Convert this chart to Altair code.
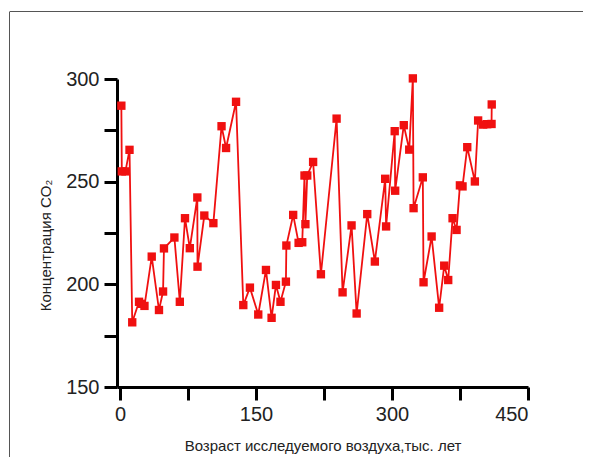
import altair as alt
import pandas as pd

age = [1.5, 2, 6, 10.5, 13.5, 21, 24, 27, 35, 43, 47.5, 48.5, 60, 66, 71.7, 77,
       85.3, 85.5, 93, 103, 112, 117, 128, 136, 143.3, 152.5, 161, 167.2, 172,
       177, 183, 183.5, 191, 197, 201, 203.5, 204.5, 206.5, 213, 221.6, 238.9,
       245.5, 255.4, 261, 272.7, 281.1, 292.5, 293.5, 303, 303.5, 313, 319, 323,
       323.8, 334, 334.8, 343.7, 352, 357.6, 362, 366.8, 371.2, 374.9, 377.8,
       383, 391.4, 395, 400.6, 405, 409.8, 410]
co2 = [287, 255, 255, 265.5, 181.5, 191.5, 190.5, 189.5, 213.5, 187.5, 196.5,
       217.5, 222.8, 191.5, 232.2, 217.6, 242.3, 208.6, 233.5, 229.8, 277, 266.4,
       288.9, 189.9, 198.4, 185.3, 207, 183.7, 199.7, 191.5, 201.3, 218.9, 233.8,
       220.2, 220.5, 253, 229.3, 253, 259.6, 204.9, 280.7, 196.1, 228.7, 185.8,
       234.2, 211.1, 251.4, 228.2, 274.6, 245.6, 277.5, 265.6, 300.3, 237.1,
       252.1, 201, 223.3, 188.6, 209.1, 202.1, 232.2, 226.5, 248.2, 247.7, 266.8,
       250.1, 279.8, 277.8, 278, 278.1, 287.6]

x_ticks = [0, 75, 150, 225, 300, 375, 450]
y_ticks = [150, 175, 200, 225, 250, 275, 300]

df = pd.DataFrame({"age": age, "co2": co2, "idx": list(range(len(age)))})

FONT = "Liberation Sans"
RED = "#f01010"

x_enc = alt.X(
    "age:Q",
    scale=alt.Scale(domain=[-3.3, 450], nice=False, zero=False),
    axis=alt.Axis(
        values=x_ticks,
        labelExpr="datum.value % 150 == 0 ? datum.label : ''",
        title="Возраст исследуемого воздуха,тыс. лет",
        titleFont=FONT, titleFontSize=15, titleFontWeight="normal",
        titleColor="#222", titlePadding=14,
        labelFont=FONT, labelFontSize=20, labelColor="#222", labelPadding=4,
        domainColor="black", domainWidth=3, tickColor="black", tickWidth=3,
        tickSize=13, grid=False,
    ),
)
y_enc = alt.Y(
    "co2:Q",
    scale=alt.Scale(domain=[150, 300], nice=False, zero=False),
    axis=alt.Axis(
        values=y_ticks,
        labelExpr="datum.value % 50 == 0 ? datum.label : ''",
        title="Концентрация CO₂",
        titleFont=FONT, titleFontSize=15, titleFontWeight="normal",
        titleColor="#222", titleX=-72, titleY=166, titleAngle=-90,
        titleAlign="center", titleBaseline="middle",
        labelFont=FONT, labelFontSize=20, labelColor="#222", labelPadding=5,
        domainColor="black", domainWidth=3, tickColor="black", tickWidth=3,
        tickSize=13, grid=False,
    ),
)

line = alt.Chart(df).mark_line(
    color=RED, strokeWidth=1.8,
    point=alt.OverlayMarkDef(shape="square", filled=True, size=70, color=RED),
).encode(x=x_enc, y=y_enc, order="idx:Q")

frame_df = pd.DataFrame({"a": [0]})
left_edge = alt.Chart(frame_df).mark_rule(color="#555", strokeWidth=1).encode(
    x=alt.value(-107.5), y=alt.value(-67), y2=alt.value(378)
)
top_edge = alt.Chart(frame_df).mark_rule(color="#555", strokeWidth=1).encode(
    x=alt.value(-107.5), x2=alt.value(466), y=alt.value(-67.5)
)

chart = alt.layer(line, left_edge, top_edge).properties(
    width=411, height=308,
    autosize=alt.AutoSizeParams(type="none"),
    padding={"left": 109, "top": 71, "right": 57, "bottom": 71},
).configure_view(stroke=None)

chart.save("out.html", embed_options={"renderer": "svg", "actions": False})
